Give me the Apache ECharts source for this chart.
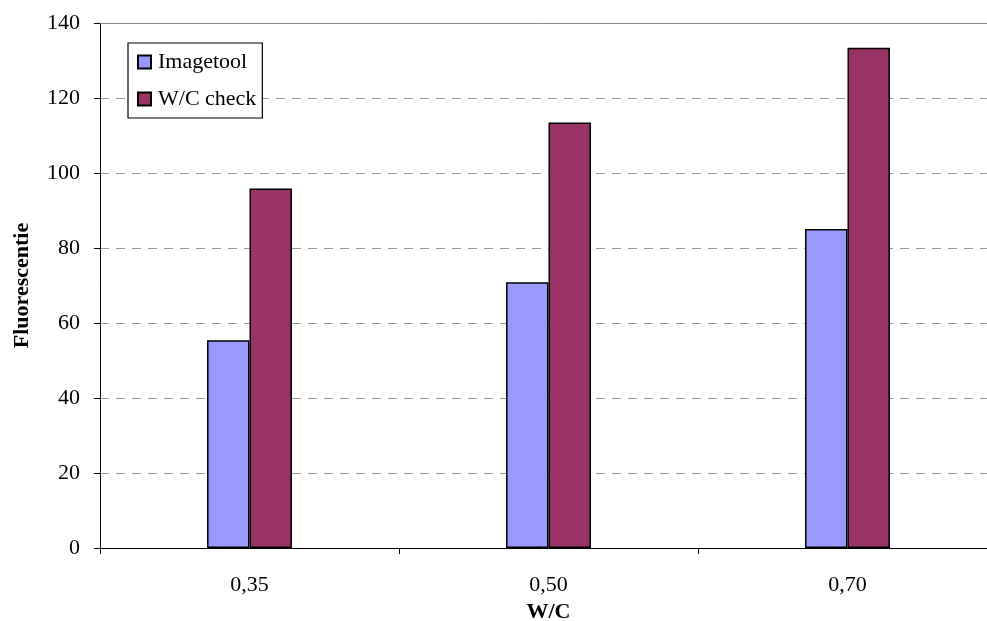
<!DOCTYPE html>
<html><head><meta charset="utf-8">
<script src="https://cdn.jsdelivr.net/npm/echarts@6/dist/echarts.min.js"></script>
<style>html,body{margin:0;padding:0;background:#fff}#c{width:987px;height:621px}</style>
</head><body><div id="c"></div>
<script>
const categories = ['0,35', '0,50', '0,70'];
const imagetool = [55.4, 70.9, 85.1];
const wcCheck = [95.9, 113.5, 133.4];
const yTicks = [0, 20, 40, 60, 80, 100, 120, 140];

const font = 'Liberation Serif';
const chart = echarts.init(document.getElementById('c'));
chart.setOption({
  animation: false,
  textStyle: { fontFamily: font },
  grid: { left: 100, right: -10, top: 23, bottom: 73, containLabel: false, outerBoundsMode: 'none' },
  legend: {
    orient: 'vertical', left: 128, top: 43,
    icon: 'rect',
    backgroundColor: '#fff', borderColor: '#000', borderWidth: 1.2,
    padding: [7, 6, 7, 9], itemGap: 13, itemWidth: 13, itemHeight: 13,
    textStyle: { fontFamily: font, fontSize: 22, lineHeight: 24, color: '#000', padding: [0, 0, 0, 2] },
    data: ['Imagetool', 'W/C check']
  },
  xAxis: [{
    type: 'category', data: categories,
    name: 'W/C', nameLocation: 'middle', nameGap: 51,
    nameTextStyle: { fontFamily: font, fontSize: 22, fontWeight: 'bold', color: '#000' },
    axisLine: { lineStyle: { color: '#000', width: 1 } },
    axisTick: { show: true, length: 6, lineStyle: { color: '#000' } },
    axisLabel: { fontFamily: font, fontSize: 22, color: '#000', margin: 26 },
    splitLine: { show: false }
  }, {
    type: 'category', data: categories, position: 'top',
    axisLine: { lineStyle: { color: '#888', width: 1 } },
    axisTick: { show: false }, axisLabel: { show: false }, splitLine: { show: false }
  }],
  yAxis: {
    type: 'value', min: 0, max: 140, interval: 20,
    name: 'Fluorescentie', nameLocation: 'middle', nameGap: 67, nameRotate: 90,
    nameTextStyle: { fontFamily: font, fontSize: 22, fontWeight: 'bold', color: '#000' },
    axisLine: { show: true, lineStyle: { color: '#000', width: 1 } },
    axisTick: { show: true, length: 6, lineStyle: { color: '#000' } },
    axisLabel: { fontFamily: font, fontSize: 22, color: '#000', margin: 20,
      formatter: v => yTicks.includes(v) ? String(v) : '' },
    splitLine: { show: true, lineStyle: { color: '#999', type: [9, 7], width: 1 } }
  },
  series: [{
    name: 'Imagetool', type: 'bar', data: imagetool,
    barWidth: '14.2%', barGap: '0%',
    itemStyle: { color: '#9999FF', borderColor: '#000', borderWidth: 1.5 }
  }, {
    name: 'W/C check', type: 'bar', data: wcCheck,
    barWidth: '14.2%', barGap: '0%',
    itemStyle: { color: '#993366', borderColor: '#000', borderWidth: 1.5 }
  }]
});
</script></body></html>
